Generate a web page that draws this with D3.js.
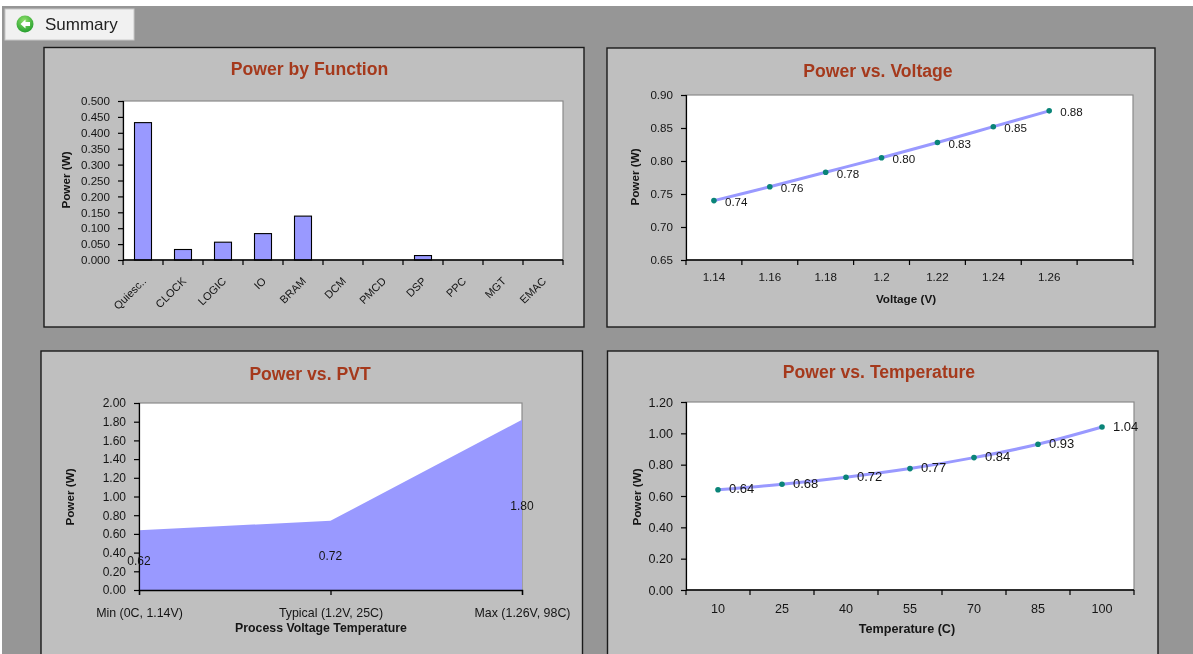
<!DOCTYPE html>
<html><head><meta charset="utf-8">
<script src="https://cdnjs.cloudflare.com/ajax/libs/d3/7.8.5/d3.min.js"></script>
<style>
html,body{margin:0;padding:0;background:#fff;overflow:hidden}
svg{display:block;font-family:"Liberation Sans",Arial,sans-serif;filter:blur(0.4px)}
</style></head><body>
<svg id="c" width="1193" height="654"></svg>
<script>
const functionCats = ["Quiesc..","CLOCK","LOGIC","IO","BRAM","DCM","PMCD","DSP","PPC","MGT","EMAC"];
const functionVals = [0.432,0.033,0.056,0.083,0.138,0,0,0.014,0,0,0];
const functionTicks = [0,0.05,0.1,0.15,0.2,0.25,0.3,0.35,0.4,0.45,0.5];

const voltageCats = ["1.14","1.16","1.18","1.2","1.22","1.24","1.26",""];
const voltageVals = [0.74,0.761,0.783,0.805,0.828,0.852,0.876];
const voltageLabels = ["0.74","0.76","0.78","0.80","0.83","0.85","0.88"];
const voltageTicks = [0.65,0.7,0.75,0.8,0.85,0.9];

const pvtCats = ["Min (0C, 1.14V)","Typical (1.2V, 25C)","Max (1.26V, 98C)"];
const pvtVals = [0.64,0.74,1.82];
const pvtLabels = ["0.62","0.72","1.80"];
const pvtTicks = [0,0.2,0.4,0.6,0.8,1,1.2,1.4,1.6,1.8,2];

const tempCats = ["10","25","40","55","70","85","100"];
const tempVals = [0.64,0.675,0.72,0.775,0.845,0.93,1.04];
const tempLabels = ["0.64","0.68","0.72","0.77","0.84","0.93","1.04"];
const tempTicks = [0,0.2,0.4,0.6,0.8,1,1.2];

const INK="#151515", FILL="#9999ff", TITLE="#a5391c", TEAL="#0a8478";
const svg=d3.select("#c");

// page background
svg.append("rect").attr("width",1193).attr("height",654).attr("fill","#fff");
svg.append("rect").attr("x",2).attr("y",6).attr("width",1191).attr("height",648).attr("fill","#969696");

// Summary button
const defs=svg.append("defs");
const grad=defs.append("radialGradient").attr("id","gbtn").attr("cx","45%").attr("cy","30%").attr("r","75%");
grad.append("stop").attr("offset","0%").attr("stop-color","#8fe06a");
grad.append("stop").attr("offset","100%").attr("stop-color","#1d9a2a");
const btn=svg.append("g");
btn.append("rect").attr("x",5).attr("y",9).attr("width",129).attr("height",31)
  .attr("fill","#f1f1f1").attr("stroke","#c8c8c8");
btn.append("circle").attr("cx",25).attr("cy",24).attr("r",8.5).attr("fill","url(#gbtn)");
btn.append("path").attr("d","M20.5 24l5-4.5v2.6h4.5v3.8h-4.5v2.6z").attr("fill","#fff");
btn.append("text").attr("x",45).attr("y",29.5).attr("font-size",17).attr("fill","#222").text("Summary");

function frame(p){
  const g=svg.append("g");
  g.append("rect").attr("x",p.panel[0]).attr("y",p.panel[1])
    .attr("width",p.panel[2]-p.panel[0]).attr("height",p.panel[3]-p.panel[1])
    .attr("fill","#bfbfbf").attr("stroke","#1a1a1a").attr("stroke-width",1.4);
  g.append("rect").attr("x",p.x0).attr("y",p.y0).attr("width",p.x1-p.x0).attr("height",p.y1-p.y0)
    .attr("fill","#fff").attr("stroke","#8a8a8a").attr("stroke-width",1.2);
  g.append("text").attr("x",p.titleX).attr("y",p.titleY).attr("text-anchor","middle")
    .attr("dominant-baseline","central").attr("font-size",17.6).attr("font-weight","bold")
    .attr("fill",TITLE).text(p.title);
  g.append("text").attr("transform",`translate(${p.yTitle[0]},${p.yTitle[1]}) rotate(-90)`)
    .attr("text-anchor","middle").attr("dominant-baseline","central")
    .attr("font-size",11.7).attr("font-weight","bold").attr("fill",INK).text("Power (W)");
  if(p.xTitle) g.append("text").attr("x",p.xTitle[0]).attr("y",p.xTitle[1]).attr("text-anchor","middle")
    .attr("dominant-baseline","central").attr("font-size",p.xtfs||11.7).attr("font-weight","bold")
    .attr("fill",INK).text(p.xTitleText);
  return g;
}
function yAxis(g,p,y,ticks,fmt){
  const a=g.append("g").attr("transform",`translate(${p.x0},0)`)
    .call(d3.axisLeft(y).tickValues(ticks).tickFormat(d3.format(fmt)).tickSize(5).tickPadding(8));
  a.selectAll("text").attr("font-size",p.fs||11.6).attr("fill",INK);
  a.selectAll("line,path").attr("stroke","#000").attr("stroke-width",1.2);
}
function xBandAxis(g,p,x,labelY){
  const a=g.append("g").attr("transform",`translate(0,${p.y1})`)
    .call(d3.axisBottom(x).tickSize(0).tickPadding(labelY));
  a.select("path").remove();
  a.selectAll("text").attr("font-size",p.fs||11.6).attr("fill",INK);
  const edges=x.domain().map(d=>x(d)).concat([p.x1]);
  const t=g.append("g");
  t.append("line").attr("x1",p.x0).attr("x2",p.x1).attr("y1",p.y1).attr("y2",p.y1).attr("stroke","#000").attr("stroke-width",1.4);
  t.selectAll("line.t").data(edges).join("line").attr("class","t")
    .attr("x1",d=>d).attr("x2",d=>d).attr("y1",p.y1).attr("y2",p.y1+5)
    .attr("stroke","#000").attr("stroke-width",1.2);
  return a;
}
function lineChart(p,cats,vals,labels,ticks,dom,fmt){
  const g=frame(p);
  const x=d3.scaleBand().domain(cats).range([p.x0,p.x1]);
  const y=d3.scaleLinear().domain(dom).range([p.y1,p.y0]);
  yAxis(g,p,y,ticks,fmt);
  xBandAxis(g,p,x,p.xPad);
  const cx=i=>x(cats[i])+x.bandwidth()/2;
  g.append("path").datum(vals).attr("fill","none").attr("stroke",FILL).attr("stroke-width",3)
    .attr("d",d3.line().x((d,i)=>cx(i)).y(d=>y(d)).curve(d3.curveCatmullRom));
  g.selectAll("circle.pt").data(vals).join("circle").attr("class","pt")
    .attr("cx",(d,i)=>cx(i)).attr("cy",d=>y(d)).attr("r",2.8).attr("fill",TEAL);
  g.selectAll("text.lb").data(vals).join("text").attr("class","lb")
    .attr("x",(d,i)=>cx(i)+11).attr("y",d=>y(d)+p.lDy).attr("dominant-baseline","central")
    .attr("font-size",p.lfs||11.6).attr("fill",INK).text((d,i)=>labels[i]);
}

// Power by Function
(function(){
  const p={panel:[44,47.5,584,327],x0:123,x1:563,y0:101,y1:260,title:"Power by Function",
    titleX:309.5,titleY:69,yTitle:[65,180]};
  const g=frame(p);
  const x=d3.scaleBand().domain(functionCats).range([p.x0,p.x1]);
  const y=d3.scaleLinear().domain([0,0.5]).range([p.y1,p.y0]);
  yAxis(g,p,y,functionTicks,".3f");
  const bw=x.bandwidth()*0.425;
  g.selectAll("rect.bar").data(functionVals).join("rect").attr("class","bar")
    .attr("x",(d,i)=>x(functionCats[i])+(x.bandwidth()-bw)/2).attr("width",bw)
    .attr("y",d=>y(d)).attr("height",d=>y(0)-y(d))
    .attr("fill",FILL).attr("stroke","#000").attr("stroke-width",1.1);
  const a=xBandAxis(g,p,x,0);
  a.selectAll("text").attr("font-size",11).attr("text-anchor","end").attr("dominant-baseline","central")
    .attr("transform","translate(1,19) rotate(-45)").attr("dy",0).attr("y",0);
})();

// Power vs. Voltage
lineChart({panel:[607,48,1155,327],x0:686,x1:1133,y0:95,y1:260,title:"Power vs. Voltage",
  titleX:878,titleY:71,yTitle:[634,177],xTitle:[906,298],xTitleText:"Voltage (V)",xPad:13,lDy:1},
  voltageCats,voltageVals,voltageLabels,voltageTicks,[0.65,0.9],".2f");

// Power vs. PVT
(function(){
  const p={panel:[41,351,582.5,680],x0:139,x1:522,y0:403,y1:590,title:"Power vs. PVT",
    titleX:310,titleY:374,yTitle:[69,497],xTitle:[321,628],xTitleText:"Process Voltage Temperature",xtfs:12.3,fs:12};
  const g=frame(p);
  const x=d3.scalePoint().domain(pvtCats).range([p.x0,p.x1]);
  const y=d3.scaleLinear().domain([0,2]).range([p.y1,p.y0]);
  g.append("path").datum(pvtVals).attr("fill",FILL)
    .attr("d",d3.area().x((d,i)=>x(pvtCats[i])).y0(y(0)).y1(d=>y(d)));
  yAxis(g,p,y,pvtTicks,".2f");
  const a=g.append("g").attr("transform",`translate(0,${p.y1})`)
    .call(d3.axisBottom(x).tickSize(5).tickPadding(13));
  a.selectAll("text").attr("font-size",12.4).attr("fill",INK);
  a.selectAll("line,path").attr("stroke","#000").attr("stroke-width",1.3);
  g.selectAll("text.lb").data(pvtVals).join("text").attr("class","lb")
    .attr("x",(d,i)=>x(pvtCats[i])).attr("y",d=>y(d/2)+1).attr("text-anchor","middle")
    .attr("dominant-baseline","central").attr("font-size",12).attr("fill",INK).text((d,i)=>pvtLabels[i]);
})();

// Power vs. Temperature
lineChart({panel:[607.5,351,1158,680],x0:686,x1:1134,y0:402,y1:590,title:"Power vs. Temperature",
  titleX:879,titleY:372,yTitle:[636,497],xTitle:[907,629],xTitleText:"Temperature (C)",xtfs:12.6,xPad:14,fs:12.6,lfs:13,lDy:-1},
  tempCats,tempVals,tempLabels,tempTicks,[0,1.2],".2f");
</script>
</body></html>
